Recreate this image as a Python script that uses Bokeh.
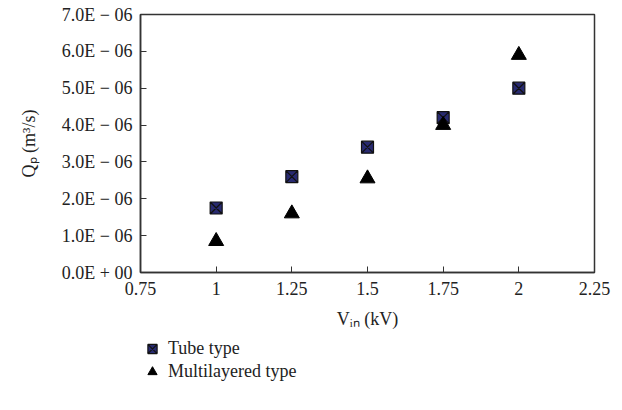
from bokeh.plotting import figure
from bokeh.models import FixedTicker, Legend, LegendItem, Range1d
from bokeh.layouts import column
from bokeh.embed import file_html
from bokeh.resources import INLINE

v_in = [1.0, 1.25, 1.5, 1.75, 2.0]
tube = [1.75e-6, 2.6e-6, 3.4e-6, 4.2e-6, 5.0e-6]
multi = [0.85e-6, 1.6e-6, 2.55e-6, 4.0e-6, 5.9e-6]
series_names = ["Tube type", "Multilayered type"]

x_ticks = [0.75, 1.0, 1.25, 1.5, 1.75, 2.0, 2.25]
x_tick_labels = ["0.75", "1", "1.25", "1.5", "1.75", "2", "2.25"]
y_ticks = [0, 1e-6, 2e-6, 3e-6, 4e-6, 5e-6, 6e-6, 7e-6]
y_tick_labels = ["0.0E + 00", "1.0E \u2212 06", "2.0E \u2212 06", "3.0E \u2212 06",
                 "4.0E \u2212 06", "5.0E \u2212 06", "6.0E \u2212 06", "7.0E \u2212 06"]

FONT = "Liberation Serif"
SQ = dict(marker="square_x", fill_color="#282a70", line_color="#111111", line_width=1.2)
TR = dict(marker="triangle", fill_color="black", line_color="black")

p = figure(width=614, height=334, output_backend="svg", toolbar_location=None,
           x_range=Range1d(0.75, 2.25), y_range=Range1d(0, 7e-6),
           min_border_left=140, min_border_right=20, min_border_top=14,
           min_border_bottom=62)
p.xgrid.visible = False
p.ygrid.visible = False
p.outline_line_color = "#333333"
p.outline_line_width = 1.5

for ax in (p.xaxis[0], p.yaxis[0]):
    ax.axis_line_color = "#333333"
    ax.axis_line_width = 1.5
    ax.major_tick_in = 6
    ax.major_tick_out = 0
    ax.major_tick_line_color = "#333333"
    ax.minor_tick_line_color = None
    ax.major_label_text_font = FONT
    ax.major_label_text_font_size = "18px"
    ax.major_label_text_color = "#222222"
    ax.axis_label_text_font = FONT
    ax.axis_label_text_font_size = "18px"
    ax.axis_label_text_font_style = "normal"
    ax.axis_label_text_color = "#222222"

p.xaxis.ticker = FixedTicker(ticks=x_ticks)
p.xaxis.major_label_overrides = dict(zip(x_ticks, x_tick_labels))
p.yaxis.ticker = FixedTicker(ticks=y_ticks)
p.yaxis.major_label_overrides = dict(zip(y_ticks, y_tick_labels))
p.xaxis.axis_label = "V\u1d62\u2099 (kV)"
p.yaxis.axis_label = "Q\u209a (m\u00b3/s)"
p.xaxis.major_label_standoff = 9
p.yaxis.major_label_standoff = 8
p.xaxis.axis_label_standoff = 11
p.yaxis.axis_label_standoff = 20

p.scatter(v_in, tube, size=12, **SQ)
p.scatter(v_in, multi, size=15, **TR)

# legend panel below the plot (series drawn again but outside its view, so only
# the legend entries show)
lg = figure(width=614, height=70, output_backend="svg", toolbar_location=None,
            x_range=Range1d(10, 11), y_range=Range1d(0, 1),
            min_border=0, min_border_left=0, min_border_right=0,
            min_border_top=0, min_border_bottom=0)
lg.axis.visible = False
lg.grid.visible = False
lg.outline_line_color = None
l1 = lg.scatter(v_in, tube, size=12, **SQ)
l2 = lg.scatter(v_in, multi, size=15, **TR)

legend = Legend(items=[LegendItem(label=series_names[0], renderers=[l1]),
                       LegendItem(label=series_names[1], renderers=[l2])],
                location=(0, 21), orientation="vertical")
legend.border_line_color = None
legend.background_fill_alpha = 0
legend.label_text_font = FONT
legend.label_text_font_size = "18px"
legend.label_text_color = "#222222"
legend.label_height = 23
legend.glyph_height = 23
legend.glyph_width = 24
legend.spacing = 0
legend.padding = 0
legend.margin = 0
legend.label_standoff = 4
lg.add_layout(legend, "center")

layout = column(p, lg, spacing=0)
open("out.html", "w").write(file_html(layout, INLINE))
